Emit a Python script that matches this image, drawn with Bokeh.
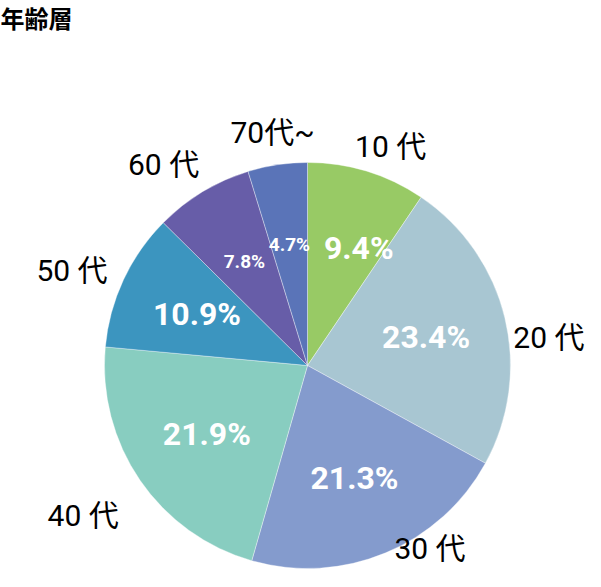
import math
from bokeh.plotting import figure
from bokeh.models import ColumnDataSource, Range1d
from bokeh.core.properties import value
from bokeh.embed import file_html
from bokeh.resources import INLINE

title_text = "年齢層"
categories = ["10 代", "20 代", "30 代", "40 代", "50 代", "60 代", "70代~"]
shares = [9.4, 23.4, 21.3, 21.9, 10.9, 7.8, 4.7]
pct_labels = ["9.4%", "23.4%", "21.3%", "21.9%", "10.9%", "7.8%", "4.7%"]
colors = ["#98CA65", "#A8C6D2", "#849BCD", "#88CDC0", "#3C95BF", "#675DA8", "#5A74B8"]

# layout: data space = reference pixel space (x right, y = REF_H - py)
REF_H = 587
W, H = 585, 571
cx, cy, R = 307, REF_H - 365, 203
pct_sizes = ["32px"] * 5 + ["19px"] * 2
pct_angle_nudge = [6.6, 0, 0, 0, 0, 0, 0]
pct_r = [128, 122, 122, 122, 122, 122, 122]
lab_angle_nudge = [3.8, 7.0, -11.2, 0.6, -3.0, -4.5, 0.0]   # degrees
lab_r = [234, 243, 220, 270, 254, 247, 236]

total = sum(shares)
starts, ends, mids = [], [], []
acc = 0.0
for s in shares:
    a0 = acc / total * 2 * math.pi
    acc += s
    a1 = acc / total * 2 * math.pi
    starts.append(math.pi / 2 - a0)
    ends.append(math.pi / 2 - a1)
    mids.append((a0 + a1) / 2)

src = ColumnDataSource(dict(start=starts, end=ends, color=colors))

p = figure(width=W, height=H, output_backend="svg", toolbar_location=None,
           x_range=Range1d(0, W), y_range=Range1d(REF_H - H, REF_H),
           min_border=0, outline_line_color=None)
p.axis.visible = False
p.grid.visible = False
p.background_fill_color = "white"
p.border_fill_color = "white"

p.wedge(x=cx, y=cy, radius=R, start_angle="start", end_angle="end",
        direction="clock", fill_color="color", line_color="white",
        line_width=0.6, line_alpha=0.6, source=src)

px = [cx + r * math.sin(m + math.radians(n)) for m, r, n in zip(mids, pct_r, pct_angle_nudge)]
py = [cy + r * math.cos(m + math.radians(n)) for m, r, n in zip(mids, pct_r, pct_angle_nudge)]
p.text(x=px, y=py, text=pct_labels, text_color="white",
       text_font=value("Roboto"), text_font_style="bold",
       text_font_size=pct_sizes, text_align="center", text_baseline="middle")

lx = [cx + r * math.sin(m + math.radians(n)) for m, r, n in zip(mids, lab_r, lab_angle_nudge)]
ly = [cy + r * math.cos(m + math.radians(n)) for m, r, n in zip(mids, lab_r, lab_angle_nudge)]
p.text(x=lx, y=ly, text=categories, text_color="black",
       text_font=value("Roboto, 'Noto Sans CJK JP'"),
       text_font_size="30px", text_align="center", text_baseline="middle")

p.text(x=[0], y=[REF_H - 17], text=[title_text], text_color="black",
       text_font=value("Noto Sans CJK JP"), text_font_style="bold",
       text_font_size="24px", text_align="left", text_baseline="middle")

open("out.html", "w").write(file_html(p, INLINE))
